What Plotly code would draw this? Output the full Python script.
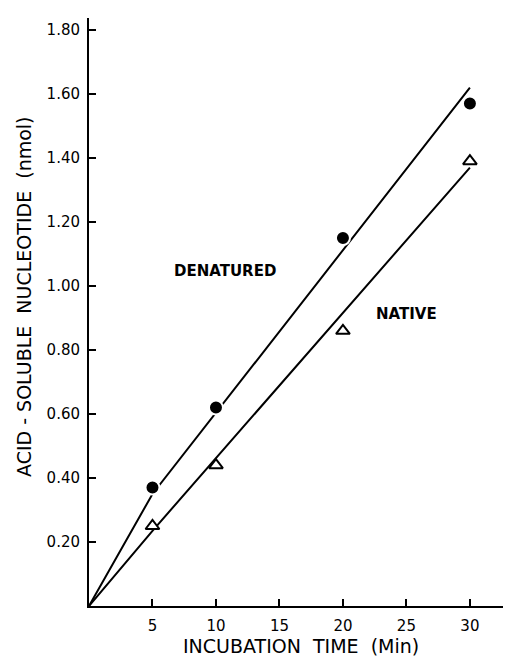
import plotly.graph_objects as go

# Data
time_min = [5, 10, 20, 30]
denatured = [0.37, 0.62, 1.15, 1.57]
native = [0.25, 0.44, 0.86, 1.39]

# Drawn fit lines (through the origin, kink at 5 min)
fit_x = [0, 5, 30]
denatured_fit = [0, 0.35, 1.62]
native_fit = [0, 0.235, 1.37]

x_ticks = [5, 10, 15, 20, 25, 30]
y_ticks = [0.2, 0.4, 0.6, 0.8, 1.0, 1.2, 1.4, 1.6, 1.8]
y_tick_text = ["0.20", "0.40", "0.60", "0.80", "1.00", "1.20", "1.40", "1.60", "1.80"]

FONT = "DejaVu Sans"

fig = go.Figure()
fig.add_trace(go.Scatter(x=fit_x, y=denatured_fit, mode="lines",
                         line=dict(color="black", width=2), hoverinfo="skip"))
fig.add_trace(go.Scatter(x=fit_x, y=native_fit, mode="lines",
                         line=dict(color="black", width=2), hoverinfo="skip"))
fig.add_trace(go.Scatter(x=time_min, y=denatured, mode="markers",
                         marker=dict(symbol="circle", size=14, color="black",
                                     line=dict(color="white", width=2))))
fig.add_trace(go.Scatter(x=time_min, y=native, mode="markers",
                         marker=dict(symbol="triangle-up", size=12, color="white",
                                     line=dict(color="black", width=2))))

OFF = 8  # page body margin
W, H = 511 - OFF, 658 - OFF
L, T, R, B = 89 - OFF, 18 - OFF, 3, 52
pw, ph = W - L - R, H - T - B


def px(X):
    return (X - OFF - L) / pw


def py(Y):
    return (H - B - (Y - OFF)) / ph


fig.update_layout(
    width=W, height=H,
    margin=dict(l=L, r=R, t=T, b=B),
    paper_bgcolor="white", plot_bgcolor="white",
    showlegend=False,
    font=dict(family=FONT, color="black"),
    xaxis=dict(range=[0, 33], tickvals=x_ticks, ticks="inside", ticklen=7,
               tickwidth=2, tickcolor="black", showline=True, linecolor="black",
               linewidth=2, showgrid=False, zeroline=False,
               tickfont=dict(size=15, family=FONT), ticklabelstandoff=5),
    yaxis=dict(range=[0, 1.8375], tickvals=y_ticks, ticktext=y_tick_text,
               ticks="inside", ticklen=7, tickwidth=2, tickcolor="black",
               showline=True, linecolor="black", linewidth=2, showgrid=False,
               zeroline=False, tickfont=dict(size=15, family=FONT),
               ticklabelstandoff=4),
    annotations=[
        dict(text="ACID - SOLUBLE  NUCLEOTIDE  (nmol)", xref="paper", yref="paper",
             x=px(24), y=py(297), textangle=-90, showarrow=False,
             font=dict(size=19, family=FONT), xanchor="center", yanchor="middle"),
        dict(text="INCUBATION  TIME  (Min)", xref="paper", yref="paper",
             x=px(301), y=py(646), showarrow=False,
             font=dict(size=19, family=FONT), xanchor="center", yanchor="middle"),
        dict(text="<b>DENATURED</b>", x=10.7, y=1.047, showarrow=False,
             font=dict(size=15, family=FONT), xanchor="center", yanchor="middle"),
        dict(text="<b>NATIVE</b>", x=25.0, y=0.9125, showarrow=False,
             font=dict(size=15, family=FONT), xanchor="center", yanchor="middle"),
    ],
)

fig.write_html("out.html")
